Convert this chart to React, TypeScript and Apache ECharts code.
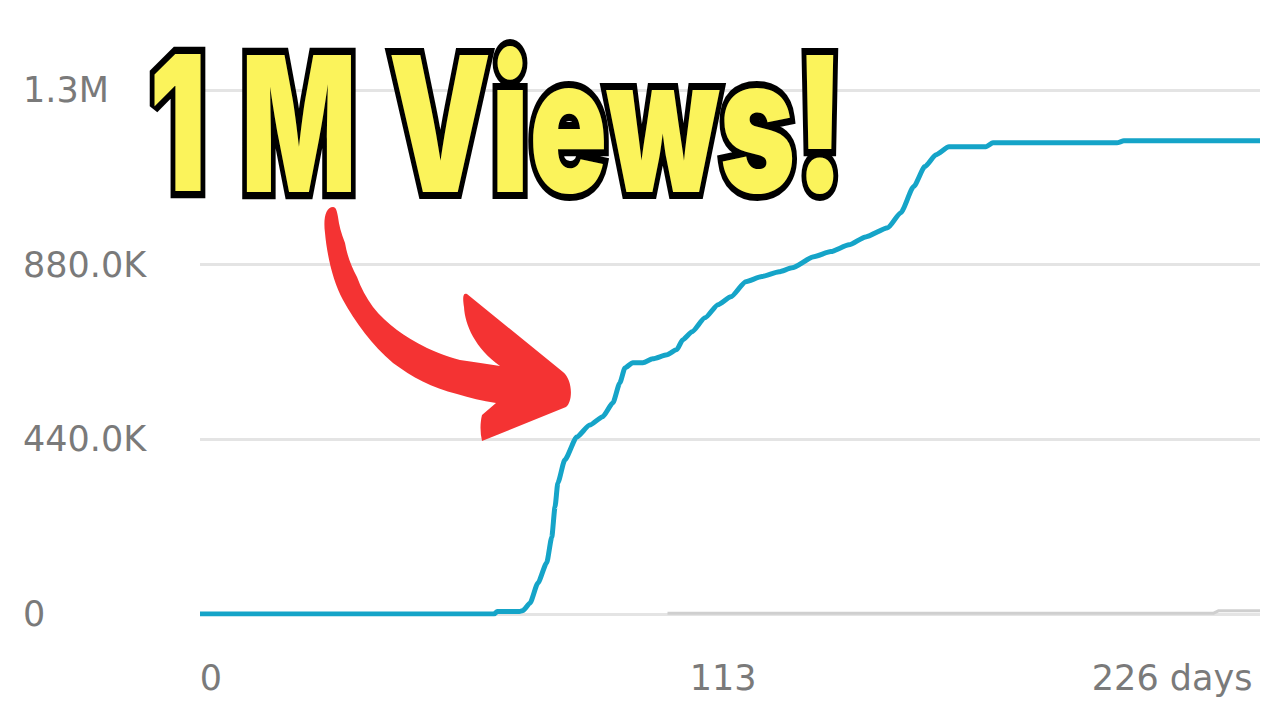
import React, { useEffect, useRef } from "react";
import * as echarts from "echarts";

// ---- data ----
const days = [
  0, 63.5, 64.2, 69.0, 69.8, 71.3, 73.0, 74.9, 76.0, 76.7, 77.3, 78.8, 81.4, 84.2, 87.0, 89.2,
  90.7, 91.8, 93.5, 95.7, 97.8, 100.9, 103.0, 104.3, 106.3, 109.1, 111.9, 114.7, 117.9, 121.4,
  125.1, 127.9, 132.6, 136.3, 140.2, 143.8, 148.6, 151.4, 154.2, 156.6, 159.0, 161.8, 169.8,
  171.3, 198.1, 199.6, 229,
];
const views = [
  0, 0, 6000, 6000, 9000, 28000, 78000, 129000, 194000, 270000, 330000, 388000, 446000, 476000,
  497000, 532000, 582000, 620000, 633000, 633000, 643000, 653000, 666000, 691000, 711000, 746000,
  779000, 799000, 837000, 850000, 862000, 872000, 900000, 913000, 930000, 950000, 973000, 1011000,
  1077000, 1127000, 1157000, 1177000, 1177000, 1187000, 1187000, 1192000, 1192000,
];
const typicalDays = [101, 219, 220, 229];
const typicalViews = [2000, 2000, 8000, 8000];

const yTicks = [0, 440000, 880000, 1320000];
const yTickLabels = ["0", "440.0K", "880.0K", "1.3M"];
const xTicks = [0, 113, 226];
const xTickLabels = ["0", "113", "226 days"];
const titleParts = ["1", "M", "Views!"];

const ARROW_D =
  "M 333 207 C 326 207 323 218 325 233 C 327 255 333 282 343 300 C 355 322 372 345 393 363 " +
  "C 412 377 432 388 457 394 C 470 398 482 401 496 403 L 482 415 C 480 423 480 432 482 441 " +
  "L 566 407 C 573 402 573 380 563 372 L 467 294 C 462 292 463 300 464 307 " +
  "C 465 325 475 348 500 366 C 487 364 474 362 460 360 C 445 356 436 352 427 348 " +
  "C 415 342 405 336 397 330 C 388 323 380 316 373 307 C 366 297 361 288 357 277 " +
  "C 351 266 347 255 345 243 C 341 233 339 225 338 217 C 337 211 336 207 333 207 Z";

echarts.graphic.registerShape("redArrow", echarts.graphic.extendPath(ARROW_D, {}));

const LABEL_FONT = '"DejaVu Sans", "Liberation Sans", sans-serif';
const LABEL_COLOR = "#7a7a7a";
const LABEL_SIZE = 35;
const TITLE_FAMILY = 'Inter, "Liberation Sans", Arial, sans-serif';

function buildTitle(): any[] {
  const size = 100;
  const font = `900 ${size}px ${TITLE_FAMILY}`;
  const ctx = document.createElement("canvas").getContext("2d") as CanvasRenderingContext2D;
  ctx.font = font;
  ctx.textBaseline = "alphabetic";
  const boxes = [
    { left: 154, right: 201 },
    { left: 246, right: 351 },
    { left: 391, right: 834 },
  ];
  const capTop = 55;
  const capBottom = 192;
  const mm = ctx.measureText("M");
  const capH = mm.actualBoundingBoxAscent;
  const sy = (capBottom - capTop) / capH;
  const fa = (mm as any).fontBoundingBoxAscent ?? size * 0.9;
  const fd = (mm as any).fontBoundingBoxDescent ?? size * 0.22;
  const central = (fa - fd) / 2;
  const y = capBottom - central * sy;
  return titleParts.map((t, i) => {
    const m = ctx.measureText(t);
    const ink = m.actualBoundingBoxLeft + m.actualBoundingBoxRight;
    const sx = (boxes[i].right - boxes[i].left) / ink;
    return {
      type: "text",
      x: boxes[i].left + m.actualBoundingBoxLeft * sx,
      y,
      scaleX: sx,
      scaleY: sy,
      z: 100,
      style: {
        text: t,
        font,
        fill: "#FBF35B",
        stroke: "#000000",
        lineWidth: 12 / ((sx + sy) / 2),
        strokeFirst: true,
        align: "left",
        verticalAlign: "middle",
        textAlign: "left",
        textVerticalAlign: "middle",
      },
    };
  });
}

export default function App() {
  const ref = useRef<HTMLDivElement>(null);
  useEffect(() => {
    if (!ref.current) return;
    document.body.style.margin = "0";
    const chart = echarts.init(ref.current, undefined, { renderer: "svg" });
    const option: any = {
      animation: false,
      backgroundColor: "#ffffff",
      grid: { left: 200, right: 20, top: 90, bottom: 106 },
      xAxis: {
        type: "value",
        min: 0,
        max: 229,
        interval: 113,
        axisLine: { show: false },
        axisTick: { show: false },
        splitLine: { show: false },
        axisLabel: {
          margin: 46,
          fontSize: LABEL_SIZE,
          fontFamily: LABEL_FONT,
          color: LABEL_COLOR,
          formatter: (v: number) => {
            const i = xTicks.indexOf(v);
            if (i < 0) return "";
            if (i === 0) return `{first|${xTickLabels[i]}}`;
            if (i === xTicks.length - 1) return `{last|${xTickLabels[i]}}`;
            return xTickLabels[i];
          },
          rich: {
            first: { fontSize: LABEL_SIZE, fontFamily: LABEL_FONT, color: LABEL_COLOR, padding: [0, 0, 0, 22] },
            last: { fontSize: LABEL_SIZE, fontFamily: LABEL_FONT, color: LABEL_COLOR, padding: [0, 148, 0, 0] },
          },
        },
      },
      yAxis: {
        type: "value",
        min: 0,
        max: 1320000,
        interval: 440000,
        axisLine: { show: false },
        axisTick: { show: false },
        splitLine: { lineStyle: { color: "#e4e4e4", width: 3 } },
        axisLabel: {
          align: "left",
          margin: 177,
          fontSize: LABEL_SIZE,
          fontFamily: LABEL_FONT,
          color: LABEL_COLOR,
          formatter: (v: number) => {
            const i = yTicks.indexOf(v);
            return i < 0 ? "" : yTickLabels[i];
          },
        },
      },
      series: [
        {
          type: "line",
          data: typicalDays.map((d, i) => [d, typicalViews[i]]),
          showSymbol: false,
          lineStyle: { color: "#cfcfcf", width: 3 },
          z: 1,
        },
        {
          type: "line",
          data: days.map((d, i) => [d, views[i]]),
          showSymbol: false,
          smooth: 0.2,
          smoothMonotone: "x",
          lineStyle: { color: "#15a4c8", width: 5 },
          z: 3,
        },
      ],
      graphic: [
        { type: "redArrow", x: 0, y: 0, z: 90, style: { fill: "#F43333" } },
        ...buildTitle(),
      ],
    };
    chart.setOption(option);
    return () => chart.dispose();
  }, []);
  return (
    <div
      ref={ref}
      style={{ position: "fixed", left: 0, top: 0, width: 1280, height: 720, background: "#fff" }}
    />
  );
}
